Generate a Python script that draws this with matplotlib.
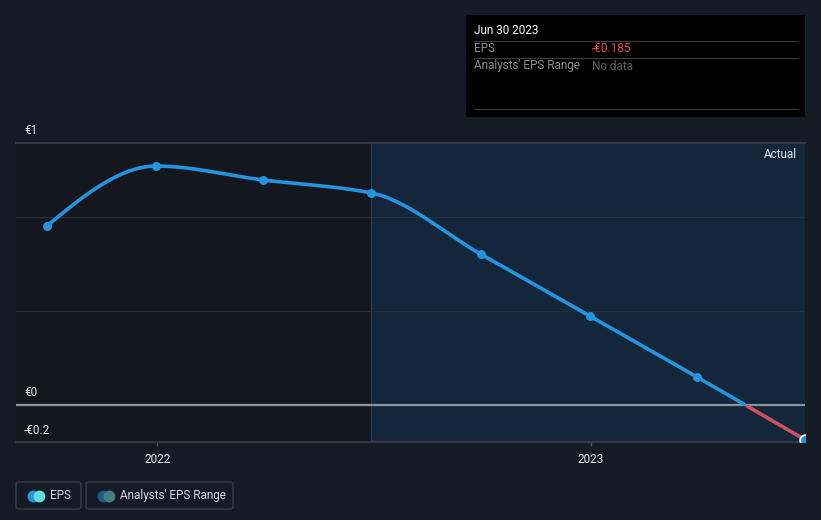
import numpy as np
import matplotlib
matplotlib.use("Agg")
import matplotlib.pyplot as plt
import matplotlib.dates as mdates
from matplotlib.patches import FancyBboxPatch, Rectangle

plt.rcParams['font.family'] = ['Roboto', 'DejaVu Sans']

# ---- data ----
dates = ["2021-09-30", "2021-12-31", "2022-03-31", "2022-06-30",
         "2022-09-30", "2022-12-31", "2023-03-31", "2023-06-30"]
eps = [0.952, 1.271, 1.197, 1.128, 0.803, 0.473, 0.149, -0.185]
year_ticks = ["2022-01-01", "2023-01-01"]
year_labels = ["2022", "2023"]
y_labels = ["€1", "€0", "-€0.2"]
forecast_start = "2022-06-30"
tooltip_date = "Jun 30 2023"
tooltip_eps = "-€0.185"

W, H = 821, 520
BG = '#151b24'
FS = 8.5
fig = plt.figure(figsize=(W / 100, H / 100), dpi=100, facecolor=BG)

def fx(px):
    return px / W

def fy(py):
    return 1 - py / H

L, R, T, B = 16, 805, 143, 442
ax = fig.add_axes([fx(L), fy(B), fx(R) - fx(L), fy(T) - fy(B)])
ax.set_facecolor('#14171e')
for s in ax.spines.values():
    s.set_visible(False)

xd = np.array([mdates.datestr2num(d) for d in dates])
yv = np.array(eps)

x0 = mdates.datestr2num("2022-01-01") - 118.9
x1 = mdates.datestr2num("2023-06-30")
ymin, ymax = -0.197, (405 - 143) / 188.0
ax.set_xlim(x0, x1)
ax.set_ylim(ymin, ymax)

# "actual" shaded region
fs = mdates.datestr2num(forecast_start)
ax.axvspan(fs, x1, color='#13263a', zorder=0, lw=0)
ax.axvline(fs, color='#1b4565', lw=0.8, zorder=1)

# gridlines
for g in [0.5, 1.0]:
    ax.axhline(g, color='#2a3038', lw=0.8, zorder=1)
ax.axhline(ymax, color='#3a4048', lw=1.2, zorder=1, clip_on=False)
ax.axhline(ymin, color='#3a4048', lw=1.2, zorder=1, clip_on=False)
ax.axhline(0, color='#8b939c', lw=1.6, zorder=2)

# monotone cubic interpolation for smooth line rendering
def monotone(x, y):
    h = np.diff(x)
    d = np.diff(y) / h
    m = np.zeros_like(y)
    for i in range(1, len(y) - 1):
        if d[i - 1] * d[i] <= 0:
            m[i] = 0
        else:
            w1 = 2 * h[i] + h[i - 1]
            w2 = h[i] + 2 * h[i - 1]
            m[i] = (w1 + w2) / (w1 / d[i - 1] + w2 / d[i])
    m[0] = (3 * d[0] - m[1]) / 2
    m[-1] = (3 * d[-1] - m[-2]) / 2
    xs, ys = [], []
    for i in range(len(x) - 1):
        t = np.linspace(0, 1, 60)
        hh = h[i]
        h00 = 2 * t**3 - 3 * t**2 + 1
        h10 = t**3 - 2 * t**2 + t
        h01 = -2 * t**3 + 3 * t**2
        h11 = t**3 - t**2
        xs.append(x[i] + t * hh)
        ys.append(h00 * y[i] + h10 * hh * m[i] + h01 * y[i + 1] + h11 * hh * m[i + 1])
    return np.concatenate(xs), np.concatenate(ys)

sx, sy = monotone(xd, yv)
pos = np.where(sy >= 0, sy, np.nan)
neg = np.where(sy <= 0, sy, np.nan)
ax.plot(sx, pos, color='#2394df', lw=2.6, zorder=3, solid_capstyle='round')
ax.plot(sx, neg, color='#d04e62', lw=2.6, zorder=3, solid_capstyle='butt')

ax.scatter(xd[:-1], yv[:-1], s=42, color='#2394df', zorder=4, lw=0)
ax.scatter(xd[-1:], yv[-1:], s=60, color='#2394df', edgecolor='white', lw=1.2, zorder=5)

ax.set_xticks([mdates.datestr2num(d) for d in year_ticks])
ax.set_xticklabels(year_labels)
ax.tick_params(axis='x', colors='#4a5058', length=3, width=1, pad=5, labelcolor='#e8eaec', labelsize=FS)
ax.set_yticks([])

# y labels
fig.text(fx(24), fy(130), y_labels[0], color='#e8eaec', fontsize=FS, va='center', ha='left')
fig.text(fx(24), fy(393), y_labels[1], color='#e8eaec', fontsize=FS, va='center', ha='left')
fig.text(fx(24), fy(430), y_labels[2], color='#e8eaec', fontsize=FS, va='center', ha='left')

fig.text(fx(797), fy(154), "Actual", color='#e8eaec', fontsize=FS, va='center', ha='right')

# tooltip
fig.patches.append(Rectangle((fx(466), fy(117)), fx(805) - fx(466), fy(15) - fy(117),
                             transform=fig.transFigure, facecolor='#000000', edgecolor='none'))
fig.text(fx(474), fy(31), tooltip_date, color='#ffffff', fontsize=FS, va='center', ha='left')
for ly in [41, 58, 109]:
    fig.add_artist(plt.Line2D([fx(474), fx(798)], [fy(ly), fy(ly)], color='#3a3d42', lw=0.8,
                              transform=fig.transFigure))
fig.text(fx(474), fy(49), "EPS", color='#8c9096', fontsize=FS, va='center', ha='left')
fig.text(fx(592), fy(49), tooltip_eps, color='#ef4a4a', fontsize=FS, va='center', ha='left')
fig.text(fx(474), fy(66), "Analysts' EPS Range", color='#8c9096', fontsize=FS, va='center', ha='left')
fig.text(fx(592), fy(66), "No data", color='#5a5e64', fontsize=FS, va='center', ha='left')

# legend
def legbox(xl, xr, label, c1, c2):
    fig.patches.append(FancyBboxPatch((fx(xl), fy(509)), fx(xr) - fx(xl), fy(482) - fy(509),
                                      boxstyle="round,pad=0,rounding_size=0.004",
                                      transform=fig.transFigure, facecolor='none',
                                      edgecolor='#3a4048', lw=1))
    cy = 495.5
    fig.add_artist(plt.Line2D([fx(xl + 17)], [fy(cy)], marker='o', markersize=7.5, color=c1,
                              transform=fig.transFigure, lw=0))
    fig.add_artist(plt.Line2D([fx(xl + 23)], [fy(cy)], marker='o', markersize=7.5, color=c2,
                              transform=fig.transFigure, lw=0))
    fig.text(fx(xl + 34), fy(cy), label, color='#d8dce0', fontsize=FS, va='center', ha='left')

legbox(16, 81, "EPS", '#2394df', '#5fe0dc')
legbox(86, 233, "Analysts' EPS Range", '#215a86', '#3d7f82')

fig.savefig("out.png", dpi=100, facecolor=BG)
